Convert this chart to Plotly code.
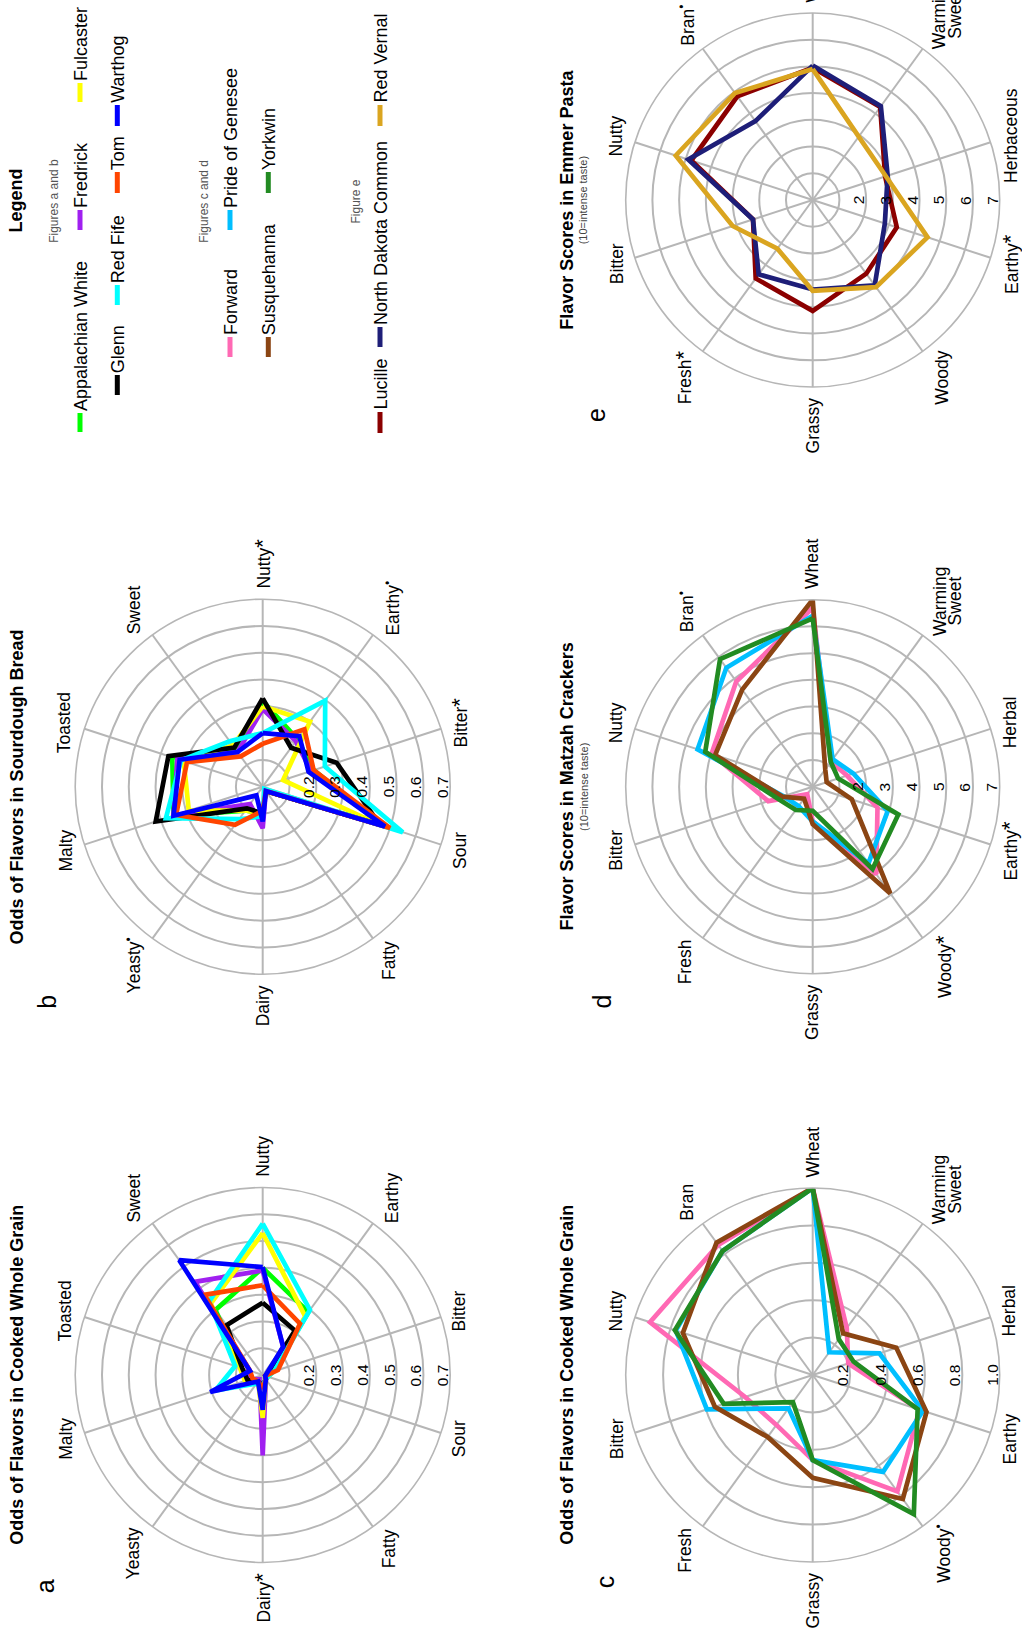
import math
import re
import plotly.graph_objects as go

W, H = 1022, 1636
FONT = "Liberation Sans, Arial, Helvetica, sans-serif"
GRID = "#B6B6B6"

# ---------------- data ----------------
STAR = '<span style="font-size:22px">*</span>'
DOT = "<sup>•</sup>"

ab_flavors = ["Nutty", "Earthy", "Bitter", "Sour", "Fatty", "Dairy", "Yeasty", "Malty", "Toasted", "Sweet"]
a_labels = ["Nutty", "Earthy", "Bitter", "Sour", "Fatty", "Dairy" + STAR, "Yeasty", "Malty", "Toasted", "Sweet"]
b_labels = ["Nutty" + STAR, "Earthy" + DOT, "Bitter" + STAR, "Sour", "Fatty", "Dairy",
            "Yeasty" + DOT, "Malty", "Toasted", "Sweet"]

ab_varieties = ["Appalachian White", "Fredrick", "Fulcaster", "Glenn", "Red Fife", "Tom", "Warthog"]

# odds of each flavor, cooked whole grain (panel a)
a_odds = [
    [0.40, 0.29, 0.04, 0.02, 0.02, 0.04, 0.03, 0.06, 0.085, 0.30],
    [0.39, 0.13, 0.02, 0.01, 0.02, 0.30, 0.02, 0.05, 0.05, 0.43],
    [0.53, 0.27, 0.04, 0.02, 0.02, 0.16, 0.03, 0.07, 0.09, 0.33],
    [0.27, 0.205, 0.02, 0.01, 0.02, 0.04, 0.03, 0.06, 0.08, 0.23],
    [0.565, 0.30, 0.045, 0.02, 0.02, 0.04, 0.04, 0.185, 0.108, 0.34],
    [0.335, 0.237, 0.06, 0.01, 0.02, 0.05, 0.03, 0.04, 0.05, 0.37],
    [0.403, 0.13, 0.015, 0.01, 0.02, 0.13, 0.03, 0.206, 0.05, 0.53],
]

# odds of each flavor, sourdough bread (panel b)
b_odds = [
    [0.32, 0.22, 0.20, 0.47, 0.02, 0.10, 0.11, 0.35, 0.355, 0.17],
    [0.29, 0.21, 0.19, 0.48, 0.02, 0.155, 0.08, 0.35, 0.335, 0.16],
    [0.30, 0.30, 0.08, 0.45, 0.02, 0.10, 0.11, 0.29, 0.31, 0.19],
    [0.33, 0.18, 0.29, 0.46, 0.02, 0.10, 0.10, 0.42, 0.37, 0.18],
    [0.20, 0.397, 0.244, 0.55, 0.01, 0.11, 0.15, 0.38, 0.32, 0.21],
    [0.16, 0.265, 0.20, 0.50, 0.02, 0.09, 0.176, 0.34, 0.297, 0.14],
    [0.20, 0.233, 0.18, 0.48, 0.02, 0.13, 0.04, 0.35, 0.326, 0.16],
]

cd_flavors = ["Wheat", "Warming Sweet", "Herbal", "Earthy", "Woody", "Grassy", "Fresh", "Bitter", "Nutty", "Bran"]
c_labels = ["Wheat", "Warming<br>Sweet", "Herbal", "Earthy", "Woody" + DOT, "Grassy", "Fresh",
            "Bitter", "Nutty", "Bran"]
d_labels = ["Wheat", "Warming<br>Sweet", "Herbal", "Earthy" + STAR, "Woody" + STAR, "Grassy", "Fresh",
            "Bitter", "Nutty", "Bran" + DOT]

cd_varieties = ["Forward", "Pride of Genesee", "Susquehanna", "Yorkwin"]

# odds of each flavor, cooked whole grain (panel c)
c_odds = [
    [1.0, 0.31, 0.20, 0.60, 0.77, 0.455, 0.33, 0.38, 0.915, 0.86],
    [1.0, 0.15, 0.375, 0.62, 0.64, 0.455, 0.22, 0.595, 0.77, 0.82],
    [1.0, 0.276, 0.47, 0.64, 0.82, 0.55, 0.41, 0.55, 0.73, 0.875],
    [1.0, 0.237, 0.23, 0.59, 0.92, 0.455, 0.18, 0.50, 0.775, 0.82],
]

# flavor scores, matzah crackers (panel d)
d_scores = [
    [6.7, 1.15, 1.35, 2.55, 4.05, 1.3, 0.35, 1.75, 3.98, 4.87],
    [6.4, 1.27, 1.6, 2.95, 3.55, 1.3, 0.9, 1.15, 4.53, 5.5],
    [7.0, 0.8, 0.55, 1.54, 4.94, 1.4, 0.55, 1.2, 3.84, 4.49],
    [6.3, 1.15, 1.0, 3.37, 3.81, 0.9, 1.08, 1.4, 4.23, 5.9],
]

e_flavors = ["Wheat", "Warming Sweet", "Herbaceous", "Earthy", "Woody", "Grassy", "Fresh", "Bitter", "Nutty", "Bran"]
e_labels = ["Wheat", "Warming<br>Sweet", "Herbaceous", "Earthy" + STAR, "Woody", "Grassy", "Fresh" + STAR,
            "Bitter", "Nutty", "Bran" + DOT]

e_varieties = ["Lucille", "North Dakota Common", "Red Vernal"]

# flavor scores, emmer pasta (panel e)
e_scores = [
    [4.95, 4.3, 2.85, 3.31, 3.41, 4.15, 3.63, 2.35, 4.78, 4.8],
    [5.03, 4.34, 2.95, 2.84, 3.95, 3.35, 3.44, 2.35, 4.9, 3.65],
    [4.9, 2.93, 2.88, 4.52, 4.03, 3.4, 2.25, 3.15, 5.39, 4.95],
]

odds_ticks_ab = [0.2, 0.3, 0.4, 0.5, 0.6, 0.7]
odds_ticks_c = [0.2, 0.4, 0.6, 0.8, 1.0]
score_ticks = [2, 3, 4, 5, 6, 7]

# ---------------- styles ----------------
ab_colors = ["#00FF00", "#A020F0", "#FFFF00", "#000000", "#00FFFF", "#FF4500", "#0000FF"]
cd_colors = ["#FF69B4", "#00BFFF", "#8B4513", "#228B22"]
e_colors = ["#8B0000", "#1E1E78", "#DAA520"]

LINE_W = 4.7
LABEL_SIZE = 17.5
TICK_SIZE = 15.5

# approximate Helvetica/Arial advance widths (1/1000 em) for label layout
ADV = {
    "A": 667, "B": 667, "C": 722, "D": 722, "E": 667, "F": 611, "G": 778, "H": 722, "L": 556,
    "M": 833, "N": 722, "P": 667, "R": 722, "S": 667, "T": 611, "W": 944, "Y": 667, "O": 778,
    "a": 556, "b": 556, "c": 500, "d": 556, "e": 556, "f": 278, "g": 556, "h": 556, "i": 222,
    "k": 500, "l": 222, "m": 833, "n": 556, "o": 556, "p": 556, "r": 333, "s": 500, "t": 278,
    "u": 556, "v": 500, "w": 722, "y": 500, "z": 500, " ": 278, "*": 450, "•": 250, ".": 278,
}


def text_width(s, size):
    s = re.sub(r"<[^>]+>", "", s)
    return sum(ADV.get(ch, 556) for ch in s) / 1000.0 * size


def px(x, y):
    return x / W, 1 - y / H


annotations = []
shapes = []


def add_text(x, y, text, size, color="#000000", xanchor="center", yanchor="middle", angle=-90):
    X, Y = px(x, y)
    annotations.append(dict(
        x=X, y=Y, xref="paper", yref="paper", text=text, showarrow=False, textangle=angle,
        xanchor=xanchor, yanchor=yanchor, font=dict(family=FONT, size=size, color=color),
        borderpad=0,
    ))


fig = go.Figure()

# panel geometry: centre (px) and outer radius (px)
panels = [
    dict(key="polar", cx=262.7, cy=1375.0, R=187.5, cats=ab_flavors, labels=a_labels, rmax=0.7,
         rings=[0.1, 0.2, 0.3, 0.4, 0.5, 0.6, 0.7], ticks=odds_ticks_ab, tickfmt="{:.1f}",
         names=ab_varieties, values=a_odds, colors=ab_colors,
         title="Odds of Flavors in Cooked Whole Grain", sub=None, letter="a", lx=44.5, ly=1586.7),
    dict(key="polar2", cx=262.7, cy=786.7, R=187.5, cats=ab_flavors, labels=b_labels, rmax=0.7,
         rings=[0.1, 0.2, 0.3, 0.4, 0.5, 0.6, 0.7], ticks=odds_ticks_ab, tickfmt="{:.1f}",
         names=ab_varieties, values=b_odds, colors=ab_colors,
         title="Odds of Flavors in Sourdough Bread", sub=None, letter="b", lx=47.0, ly=1001.7),
    dict(key="polar3", cx=812.7, cy=1375.0, R=187.0, cats=cd_flavors, labels=c_labels, rmax=1.0,
         rings=[0.2, 0.4, 0.6, 0.8, 1.0], ticks=odds_ticks_c, tickfmt="{:.1f}",
         names=cd_varieties, values=c_odds, colors=cd_colors,
         title="Odds of Flavors in Cooked Whole Grain", sub=None, letter="c", lx=604.5, ly=1581.7),
    dict(key="polar4", cx=812.7, cy=786.7, R=187.0, cats=cd_flavors, labels=d_labels, rmax=7,
         rings=[1, 2, 3, 4, 5, 6, 7], ticks=score_ticks, tickfmt="{:d}",
         names=cd_varieties, values=d_scores, colors=cd_colors,
         title="Flavor Scores in Matzah Crackers", sub="(10=intense taste)", letter="d", lx=601.7, ly=1001.7),
    dict(key="polar5", cx=812.7, cy=200.0, R=187.0, cats=e_flavors, labels=e_labels, rmax=7,
         rings=[1, 2, 3, 4, 5, 6, 7], ticks=score_ticks, tickfmt="{:d}",
         names=e_varieties, values=e_scores, colors=e_colors,
         title="Flavor Scores in Emmer Pasta", sub="(10=intense taste)", letter="e", lx=596.0, ly=415.0),
]

layout_polars = {}
for p in panels:
    cx, cy, R = p["cx"], p["cy"], p["R"]
    layout_polars[p["key"]] = dict(
        domain=dict(x=[(cx - R) / W, (cx + R) / W], y=[1 - (cy + R) / H, 1 - (cy - R) / H]),
        bgcolor="white",
        radialaxis=dict(range=[0, p["rmax"]], tickvals=p["rings"], showticklabels=False, ticks="",
                        showline=False, gridcolor=GRID, gridwidth=1.6, angle=0),
        angularaxis=dict(type="category", categoryorder="array", categoryarray=p["cats"],
                         direction="clockwise", rotation=90, showticklabels=False, ticks="",
                         showline=True, linecolor=GRID, linewidth=1.6, gridcolor=GRID, gridwidth=1.6),
    )

    # one closed outline per variety
    for name, vals, col in zip(p["names"], p["values"], p["colors"]):
        fig.add_trace(go.Scatterpolar(
            r=vals + vals[:1], theta=p["cats"] + p["cats"][:1], mode="lines", name=name,
            line=dict(color=col, width=LINE_W), subplot=p["key"], showlegend=False,
            hoverinfo="skip",
        ))

    # flavor names around the rim
    n = len(p["labels"])
    for i, lab in enumerate(p["labels"]):
        ang = math.radians(90 - i * 360.0 / n)
        c, s = math.cos(ang), math.sin(ang)
        lines = lab.split("<br>")
        L = max(text_width(t, LABEL_SIZE) for t in lines)
        line_gap = 15.5
        band = 0.78 * LABEL_SIZE + (len(lines) - 1) * line_gap
        rc = R + 11 + band / 2 * abs(c) + L / 2 * s * s
        x0, y0 = cx + rc * c, cy - rc * s
        for j, t in enumerate(lines):
            off = (j - (len(lines) - 1) / 2.0) * line_gap
            add_text(x0 + off, y0, t, LABEL_SIZE)

    # radial scale values along the horizontal radius
    for v in p["ticks"]:
        add_text(cx + v / p["rmax"] * R - 8, cy, p["tickfmt"].format(v), TICK_SIZE)

    # titles, subtitles and panel letters
    add_text(cx - 246, cy, "<b>" + p["title"] + "</b>", 18)
    if p["sub"]:
        add_text(cx - 229.4, cy, p["sub"], 11, color="#444444")
    add_text(p["lx"], p["ly"], p["letter"], 25)

# ---------------- legend block ----------------
add_text(15, 200.5, "<b>Legend</b>", 18)
add_text(54, 200.8, "Figures a and b", 12, color="#555555")
add_text(204, 201.7, "Figures c and d", 12, color="#555555")
add_text(355, 201.5, "Figure e", 12, color="#555555")

# (name, colour, key x, key bottom y, key top y)
legend_items = [
    ("Appalachian White", ab_colors[0], 80.0, 432, 413),
    ("Fredrick", ab_colors[1], 80.0, 230, 210),
    ("Fulcaster", ab_colors[2], 80.0, 102, 83),
    ("Glenn", ab_colors[3], 117.3, 395, 375),
    ("Red Fife", ab_colors[4], 117.3, 305, 285),
    ("Tom", ab_colors[5], 117.3, 193, 172),
    ("Warthog", ab_colors[6], 117.3, 126, 105),
    ("Forward", cd_colors[0], 230.0, 357, 337),
    ("Pride of Genesee", cd_colors[1], 230.0, 230, 210),
    ("Susquehanna", cd_colors[2], 268.3, 357, 337),
    ("Yorkwin", cd_colors[3], 268.3, 193, 172),
    ("Lucille", e_colors[0], 380.0, 433, 412),
    ("North Dakota Common", e_colors[1], 380.0, 347, 327),
    ("Red Vernal", e_colors[2], 380.0, 126, 105),
]
for name, col, kx, yb, yt in legend_items:
    x0, y0 = px(kx, yb)
    x1, y1 = px(kx, yt)
    shapes.append(dict(type="line", xref="paper", yref="paper", x0=x0, y0=y0, x1=x1, y1=y1,
                       line=dict(color=col, width=5)))
    add_text(kx + 1, yt - 1, name, 18, yanchor="bottom")

fig.update_layout(
    width=W, height=H, margin=dict(l=0, r=0, t=0, b=0),
    paper_bgcolor="white", plot_bgcolor="white",
    font=dict(family=FONT, color="#000000"),
    showlegend=False,
    annotations=annotations, shapes=shapes,
    **layout_polars,
)

fig.write_html("out.html")
